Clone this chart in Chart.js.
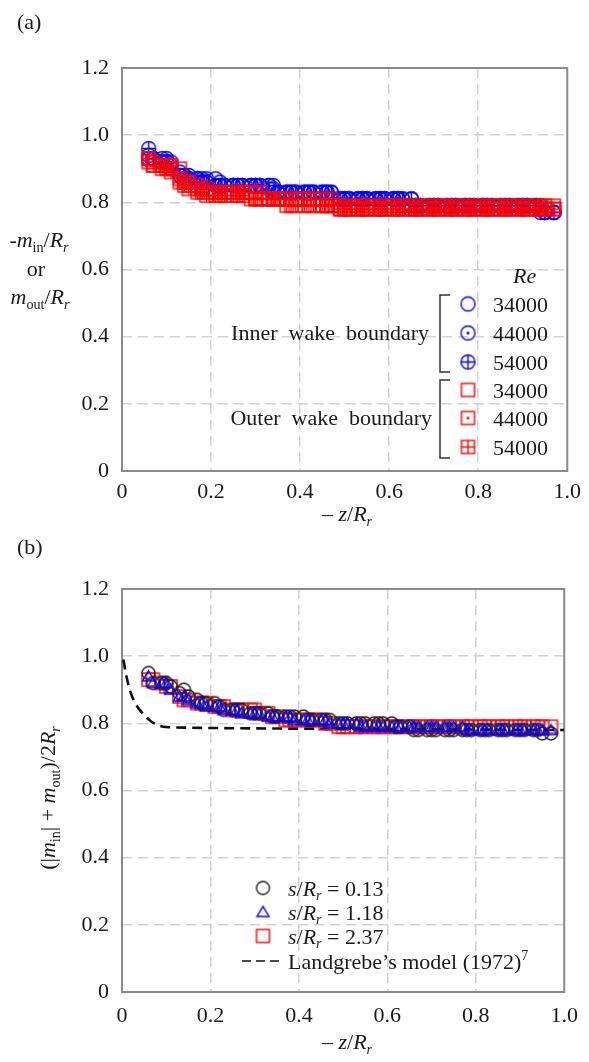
<!DOCTYPE html>
<html><head><meta charset="utf-8">
<script src="https://cdn.jsdelivr.net/npm/chart.js@4.4.1/dist/chart.umd.min.js"></script>
<style>html,body{margin:0;padding:0;background:#fff;}canvas{display:block;}</style>
</head><body>
<canvas id="ca" width="589" height="531"></canvas>
<canvas id="cb" width="589" height="531"></canvas>
<script>
// ---------- DATA ----------
const zPos = [0.06,0.07,0.09,0.10,0.11,0.13,0.14,0.15,0.17,0.18,
  0.19,0.21,0.22,0.23,0.25,0.26,0.27,0.29,0.30,0.31,
  0.33,0.34,0.35,0.37,0.38,0.39,0.41,0.42,0.43,0.45,
  0.46,0.47,0.49,0.50,0.51,0.53,0.54,0.55,0.57,0.58,
  0.59,0.61,0.62,0.63,0.65,0.66,0.67,0.69,0.70,0.71,
  0.73,0.74,0.75,0.77,0.78,0.79,0.81,0.82,0.83,0.85,
  0.86,0.87,0.89,0.90,0.91,0.93,0.94,0.95,0.97];

// (a) inner wake boundary  -m_in/R_r
const inner34000 = [0.94,0.93,0.93,0.93,0.92,0.89,0.88,0.88,0.87,0.87,
  0.87,0.87,0.86,0.85,0.85,0.85,0.85,0.85,0.85,0.85,
  0.85,0.85,0.83,0.83,0.83,0.83,0.83,0.83,0.83,0.83,
  0.83,0.83,0.81,0.81,0.81,0.81,0.81,0.81,0.81,0.81,
  0.81,0.81,0.81,0.81,0.81,0.79,0.79,0.79,0.79,0.79,
  0.79,0.79,0.79,0.79,0.79,0.79,0.79,0.79,0.79,0.79,
  0.79,0.79,0.79,0.79,0.79,0.79,0.77,0.77,0.77];
const inner44000 = [0.93,0.93,0.92,0.92,0.91,0.88,0.88,0.87,0.87,0.86,
  0.86,0.85,0.85,0.85,0.85,0.85,0.85,0.85,0.85,0.85,
  0.85,0.84,0.83,0.83,0.83,0.83,0.83,0.83,0.83,0.83,
  0.83,0.81,0.81,0.81,0.81,0.81,0.81,0.81,0.81,0.81,
  0.81,0.81,0.81,0.79,0.79,0.79,0.79,0.79,0.79,0.79,
  0.79,0.79,0.79,0.79,0.79,0.79,0.79,0.79,0.79,0.79,
  0.79,0.79,0.79,0.79,0.79,0.79,0.78,0.77,0.77];
const inner54000 = [0.96,0.93,0.92,0.92,0.90,0.88,0.87,0.87,0.86,0.86,
  0.86,0.85,0.85,0.85,0.85,0.85,0.85,0.85,0.85,0.85,
  0.84,0.83,0.83,0.83,0.83,0.83,0.83,0.83,0.83,0.83,
  0.83,0.83,0.81,0.81,0.81,0.81,0.81,0.81,0.81,0.81,
  0.81,0.81,0.81,0.81,0.81,0.79,0.79,0.79,0.79,0.79,
  0.79,0.79,0.79,0.79,0.79,0.79,0.79,0.79,0.79,0.79,
  0.79,0.79,0.79,0.79,0.79,0.79,0.79,0.77,0.77];
// (a) outer wake boundary  m_out/R_r
const outer34000 = [0.93,0.92,0.91,0.91,0.91,0.90,0.86,0.86,0.85,0.84,
  0.84,0.83,0.83,0.83,0.83,0.83,0.83,0.83,0.83,0.83,
  0.81,0.81,0.81,0.81,0.81,0.81,0.81,0.81,0.81,0.81,
  0.81,0.81,0.79,0.79,0.79,0.79,0.79,0.79,0.79,0.79,
  0.79,0.79,0.79,0.79,0.79,0.79,0.79,0.79,0.79,0.79,
  0.79,0.79,0.79,0.79,0.79,0.79,0.79,0.79,0.79,0.79,
  0.79,0.79,0.79,0.79,0.79,0.79,0.79,0.79,0.79];
const outer44000 = [0.92,0.91,0.91,0.91,0.90,0.87,0.86,0.85,0.84,0.84,
  0.83,0.83,0.83,0.83,0.83,0.83,0.83,0.83,0.81,0.81,
  0.81,0.81,0.81,0.81,0.81,0.81,0.81,0.81,0.81,0.79,
  0.79,0.79,0.78,0.78,0.78,0.78,0.78,0.78,0.78,0.78,
  0.78,0.78,0.78,0.78,0.78,0.78,0.78,0.78,0.78,0.78,
  0.78,0.78,0.78,0.78,0.78,0.78,0.78,0.78,0.78,0.78,
  0.78,0.78,0.78,0.78,0.78,0.78,0.78,0.78,0.78];
const outer54000 = [0.93,0.91,0.90,0.90,0.89,0.86,0.85,0.84,0.83,0.83,
  0.82,0.82,0.82,0.82,0.82,0.82,0.82,0.81,0.81,0.81,
  0.81,0.81,0.81,0.79,0.79,0.79,0.79,0.79,0.79,0.79,
  0.79,0.79,0.78,0.78,0.78,0.78,0.78,0.78,0.78,0.78,
  0.78,0.78,0.78,0.78,0.78,0.78,0.78,0.78,0.78,0.78,
  0.78,0.78,0.78,0.78,0.78,0.78,0.78,0.78,0.78,0.78,
  0.78,0.78,0.78,0.78,0.78,0.78,0.78,0.78,0.78];

// (b) (|m_in| + m_out)/2R_r
const spacing013 = [0.95,0.92,0.92,0.92,0.91,0.89,0.90,0.88,0.87,0.86,
  0.86,0.86,0.85,0.84,0.84,0.84,0.84,0.83,0.83,0.83,
  0.83,0.82,0.82,0.82,0.82,0.82,0.82,0.81,0.81,0.81,
  0.81,0.81,0.80,0.80,0.80,0.80,0.80,0.80,0.80,0.80,
  0.80,0.80,0.79,0.79,0.79,0.78,0.78,0.78,0.78,0.78,
  0.78,0.78,0.78,0.78,0.78,0.78,0.78,0.78,0.78,0.78,
  0.78,0.78,0.78,0.78,0.78,0.78,0.78,0.77,0.77];
const spacing118 = [0.94,0.92,0.92,0.92,0.90,0.88,0.88,0.87,0.86,0.86,
  0.85,0.85,0.85,0.84,0.84,0.84,0.83,0.83,0.83,0.83,
  0.82,0.82,0.82,0.82,0.82,0.81,0.81,0.81,0.81,0.81,
  0.81,0.80,0.80,0.80,0.80,0.80,0.79,0.79,0.79,0.79,
  0.79,0.79,0.79,0.79,0.79,0.79,0.79,0.79,0.79,0.79,
  0.79,0.79,0.79,0.79,0.78,0.78,0.78,0.78,0.78,0.78,
  0.78,0.78,0.78,0.78,0.78,0.78,0.78,0.78,0.78];
const spacing237 = [0.93,0.93,0.92,0.91,0.91,0.88,0.87,0.87,0.86,0.86,
  0.86,0.85,0.85,0.85,0.84,0.84,0.84,0.84,0.84,0.83,
  0.83,0.82,0.82,0.81,0.81,0.81,0.81,0.81,0.81,0.81,
  0.80,0.80,0.79,0.79,0.79,0.79,0.79,0.79,0.79,0.79,
  0.79,0.79,0.79,0.79,0.79,0.79,0.79,0.79,0.79,0.79,
  0.79,0.79,0.79,0.79,0.79,0.79,0.79,0.79,0.79,0.79,
  0.79,0.79,0.79,0.79,0.79,0.79,0.79,0.79,0.79];
// Landgrebe's model (1972)
const landgrebeZ = [0.003,0.01,0.02,0.03,0.04,0.05,0.06,0.07,0.085,0.1,0.15,0.3,0.6,1.0];
const landgrebeM = [0.99,0.94,0.89,0.86,0.84,0.825,0.812,0.802,0.793,0.789,0.787,0.785,0.783,0.78];

const axisTicks = [0,0.2,0.4,0.6,0.8,1.0,1.2];
const tickLabel = v => (Math.abs(v) < 1e-9 ? '0' : v.toFixed(1));

// ---------- helpers ----------
const SERIF = "'Liberation Serif','Times New Roman',serif";
const FS = 22;
function fnt(sz, it){ return (it ? 'italic ' : '') + sz + 'px ' + SERIF; }
function segSize(s, size){ return (s.sub || s.sup) ? size * 0.64 : size; }
function richWidth(ctx, segs, size){
  let w = 0;
  for (const s of segs){ ctx.font = fnt(segSize(s,size), s.it); w += ctx.measureText(s.t).width; }
  return w;
}
function drawRich(ctx, segs, x, y, size, align){
  const w = richWidth(ctx, segs, size);
  let cx = align === 'center' ? x - w/2 : align === 'right' ? x - w : x;
  ctx.textAlign = 'left'; ctx.textBaseline = 'alphabetic';
  for (const s of segs){
    const sz = segSize(s,size);
    ctx.font = fnt(sz, s.it);
    const dy = s.sub ? size*0.22 : s.sup ? -size*0.4 : 0;
    ctx.fillText(s.t, cx, y + dy);
    cx += ctx.measureText(s.t).width;
  }
}
function mk(kind, color, d, lw){
  const s = 21;
  const c = document.createElement('canvas'); c.width = s; c.height = s;
  const g = c.getContext('2d'); const m = s/2; const r = d/2;
  g.strokeStyle = color; g.fillStyle = color; g.lineWidth = lw;
  if (kind.startsWith('circle')) { g.beginPath(); g.arc(m,m,r,0,Math.PI*2); g.stroke(); }
  if (kind.startsWith('square')) { g.strokeRect(m-r, m-r, d, d); }
  if (kind.startsWith('tri')) {
    g.beginPath(); g.moveTo(m, m - r*0.95); g.lineTo(m + r, m + r*0.75); g.lineTo(m - r, m + r*0.75); g.closePath(); g.stroke();
  }
  if (kind.endsWith('Dot')) { g.beginPath(); g.arc(m,m,1.5,0,Math.PI*2); g.fill(); }
  if (kind.endsWith('Plus')) {
    g.beginPath(); g.moveTo(m-r,m); g.lineTo(m+r,m); g.moveTo(m,m-r); g.lineTo(m,m+r); g.stroke();
  }
  return c;
}
const BLUE = '#0000ff', RED = '#ff0000', BLACK = '#1e1e1e';
const LW = 1.4;
const mCirc = mk('circle', BLUE, 14, LW), mCircDot = mk('circleDot', BLUE, 14, LW), mCircPlus = mk('circlePlus', BLUE, 14, LW);
const mSq = mk('square', RED, 13, LW), mSqDot = mk('squareDot', RED, 13, LW), mSqPlus = mk('squarePlus', RED, 13, LW);
const mBlk = mk('circle', BLACK, 13, LW), mTri = mk('tri', BLUE, 12, LW), mRedSq = mk('square', RED, 13, LW);

function pts(xs, ys){ return ys.map((y,i)=>({x:xs[i], y})); }
function scat(data, style){ return { data, pointStyle: style, pointRadius: 7, showLine: false }; }

function scales(xHeight, xPad){
  const grid = {
    drawTicks: false, lineWidth: 1.5,
    color: c => (c.tick && (c.tick.value <= 1e-9 || c.tick.value >= c.scale.max - 1e-9)) ? 'rgba(0,0,0,0)' : '#d2d2d2'
  };
  return {
    x: { type:'linear', min:0, max:1, afterBuildTicks: s => { s.ticks = axisTicks.filter(v=>v<=1.0001).map(v=>({value:v})); },
      ticks: { callback: tickLabel, font:{family:SERIF, size:FS}, color:'#1a1a1a', padding:xPad, maxRotation:0, autoSkip:false },
      grid, border:{display:false, dash:[10,6]}, afterFit: s => { s.height = xHeight; } },
    y: { type:'linear', min:0, max:1.2, afterBuildTicks: s => { s.ticks = axisTicks.map(v=>({value:v})); },
      ticks: { callback: tickLabel, font:{family:SERIF, size:FS}, color:'#1a1a1a', padding:13, autoSkip:false },
      grid, border:{display:false, dash:[10,6]}, afterFit: s => { s.width = 122; } }
  };
}
function drawBox(chart){
  const {ctx, chartArea:a} = chart;
  ctx.save(); ctx.strokeStyle = '#8a8a8a'; ctx.lineWidth = 2; ctx.setLineDash([]);
  ctx.strokeRect(a.left, a.top, a.right - a.left, a.bottom - a.top); ctx.restore();
}
const xTitle = [{t:'– '},{t:'z',it:true},{t:'/'},{t:'R',it:true},{t:'r',it:true,sub:true}];

// ---------- chart (a) ----------
const decorA = {
  id:'decorA',
  beforeDatasetsDraw(chart){ drawBox(chart); },
  afterDraw(chart){
    const ctx = chart.ctx; ctx.save(); ctx.fillStyle = '#1a1a1a';
    drawRich(ctx, [{t:'(a)'}], 17, 29, FS, 'left');
    drawRich(ctx, [{t:'-'},{t:'m',it:true},{t:'in',sub:true},{t:'/'},{t:'R',it:true},{t:'r',it:true,sub:true}], 39, 247, FS, 'center');
    drawRich(ctx, [{t:'or'}], 36, 276, FS, 'center');
    drawRich(ctx, [{t:'m',it:true},{t:'out',sub:true},{t:'/'},{t:'R',it:true},{t:'r',it:true,sub:true}], 40, 304, FS, 'center');
    drawRich(ctx, xTitle, 347, 521, FS, 'center');
    // legend
    drawRich(ctx, [{t:'Re',it:true}], 513, 283, FS, 'left');
    const rows = [304,333,362,390,418,447];
    const mks = [mCirc, mCircDot, mCircPlus, mSq, mSqDot, mSqPlus];
    const labs = ['34000','44000','54000','34000','44000','54000'];
    rows.forEach((y,i)=>{
      const m = mks[i]; ctx.drawImage(m, 468 - m.width/2, y - m.height/2);
      drawRich(ctx, [{t:labs[i]}], 493, y + 7.5, FS, 'left');
    });
    drawRich(ctx, [{t:'Inner  wake  boundary'}], 429, 340, FS, 'right');
    drawRich(ctx, [{t:'Outer  wake  boundary'}], 432, 425, FS, 'right');
    ctx.strokeStyle = '#333'; ctx.lineWidth = 1.5;
    for (const [y0,y1] of [[295,372],[380,458]]){
      ctx.beginPath(); ctx.moveTo(450,y0); ctx.lineTo(440,y0); ctx.lineTo(440,y1); ctx.lineTo(450,y1); ctx.stroke();
    }
    ctx.restore();
  }
};
new Chart(document.getElementById('ca'), {
  type:'scatter',
  data:{ datasets:[
    scat(pts(zPos,outer54000), mSqPlus),
    scat(pts(zPos,outer44000), mSqDot),
    scat(pts(zPos,outer34000), mSq),
    scat(pts(zPos,inner54000), mCircPlus),
    scat(pts(zPos,inner44000), mCircDot),
    scat(pts(zPos,inner34000), mCirc)
  ]},
  options:{ responsive:false, animation:false, devicePixelRatio:1,
    layout:{ padding:{ left:0, right:16, top:68, bottom:0 } },
    plugins:{ legend:{display:false}, tooltip:{enabled:false} },
    scales: scales(60, 8) },
  plugins:[decorA]
});

// ---------- chart (b) ----------
const decorB = {
  id:'decorB',
  beforeDatasetsDraw(chart){ drawBox(chart); },
  afterDraw(chart){
    const ctx = chart.ctx; ctx.save(); ctx.fillStyle = '#1a1a1a';
    drawRich(ctx, [{t:'(b)'}], 17, 23, FS, 'left');
    ctx.save(); ctx.translate(55, 267); ctx.rotate(-Math.PI/2);
    drawRich(ctx, [{t:'(|'},{t:'m',it:true},{t:'in',sub:true},{t:'| + '},{t:'m',it:true},{t:'out',sub:true},{t:')/2'},{t:'R',it:true},{t:'r',it:true,sub:true}], 0, 0, FS, 'center');
    ctx.restore();
    drawRich(ctx, xTitle, 347, 518, FS, 'center');
    const rows = [357,381,405,430];
    const mks = [mBlk, mTri, mRedSq];
    const vals = ['0.13','1.18','2.37'];
    for (let i=0;i<3;i++){
      const m = mks[i]; ctx.drawImage(m, 263 - m.width/2, rows[i] - m.height/2);
      drawRich(ctx, [{t:'s',it:true},{t:'/'},{t:'R',it:true},{t:'r',it:true,sub:true},{t:' = '+vals[i]}], 288, rows[i]+7.5, FS, 'left');
    }
    ctx.strokeStyle = '#111'; ctx.lineWidth = 1.6; ctx.setLineDash([9,5]);
    ctx.beginPath(); ctx.moveTo(242, rows[3]); ctx.lineTo(281, rows[3]); ctx.stroke(); ctx.setLineDash([]);
    drawRich(ctx, [{t:'Landgrebe’s model (1972)'},{t:'7',sup:true}], 288, rows[3]+7.5, FS, 'left');
    ctx.restore();
  }
};
new Chart(document.getElementById('cb'), {
  type:'scatter',
  data:{ datasets:[
    scat(pts(zPos,spacing118), mTri),
    scat(pts(zPos,spacing013), mBlk),
    scat(pts(zPos,spacing237), mRedSq),
    { data: pts(landgrebeZ, landgrebeM), showLine:true, pointRadius:0, borderColor:'#111', borderWidth:2.6,
      borderDash:[10,6], cubicInterpolationMode:'monotone', fill:false }
  ]},
  options:{ responsive:false, animation:false, devicePixelRatio:1,
    layout:{ padding:{ left:0, right:16, top:58, bottom:0 } },
    plugins:{ legend:{display:false}, tooltip:{enabled:false} },
    scales: scales(70, 11) },
  plugins:[decorB]
});
</script>
</body></html>
